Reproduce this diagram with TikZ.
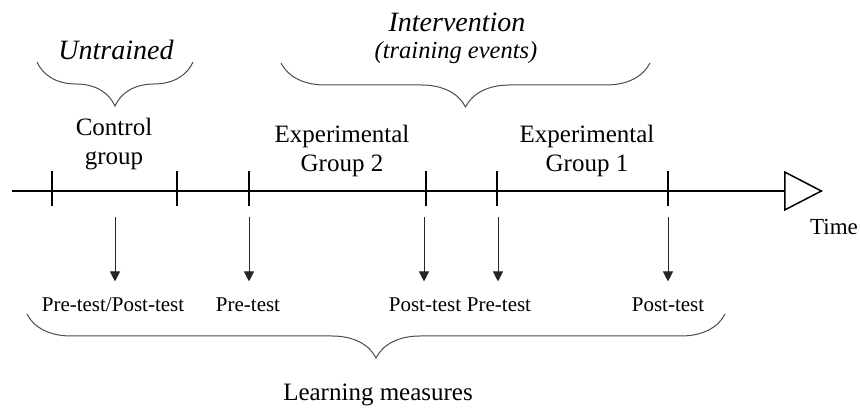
\documentclass[tikz,border=0pt]{standalone}
\usepackage{fontspec}
\setmainfont{Liberation Serif}
\usetikzlibrary{arrows.meta,decorations.pathreplacing}

\begin{document}
\begin{tikzpicture}[x=1pt, y=1pt,
    axis/.style={line width=2pt, -{Triangle[open, length=39pt, width=40pt, line width=1.5pt]}},
    tick/.style={line width=2pt},
    measure/.style={draw=black!85, line width=0.9pt, -{Triangle[length=10pt, width=10pt]}, shorten >=12pt},
    brace/.style={draw=black!70, line width=1pt, decorate, decoration={brace, mirror, amplitude=44pt}},
    group/.style={align=center, font=\fontsize{25}{29}\selectfont},
    test/.style={anchor=base, text height=15pt, text depth=4pt, font=\fontsize{21}{25}\selectfont},
    phase/.style={font=\fontsize{28}{32}\selectfont\itshape}]
    \useasboundingbox (0,0) rectangle (860,412);

    % time line
    \coordinate (start) at (12,221);
    \coordinate (end) at (823,221);
    \draw[axis] (start) -- (end);
    \node[font=\fontsize{23}{27}\selectfont] (time) at (834,185) {Time};
    \foreach \x [count=\i] in {52,177,249,426,497,668}
        \draw[tick] (\x,241) coordinate (t\i) -- (\x,206);

    % groups
    \node[group] (control) at (114,268) {Control\\group};
    \node[group] (exp2) at (342,261) {Experimental\\Group 2};
    \node[group] (exp1) at (587,261) {Experimental\\Group 1};

    % phases
    \draw[brace] (37,350) -- (193,350);
    \node[phase] (untrained) at (116,362) {Untrained};
    \draw[brace] (281,349) -- (650,349);
    \node[phase] (intervention) at (457,390) {Intervention};
    \node[font=\fontsize{24.5}{28}\selectfont\itshape] (events) at (456,359) {(training events)};

    % measures
    \foreach \x/\lab [count=\i] in {113/Pre-test\slash Post-test, 248/Pre-test, 425/Post-test, 499/Pre-test, 668/Post-test}
        \node[test] (l\i) at (\x,100) {\lab};
    \foreach \x [count=\i] in {115,249,424,498,668} {
        \coordinate (m\i) at (\x,195);
        \draw[measure] (m\i) -- (m\i |- l\i.north);
    }
    \draw[brace] (27,98) -- (725,98);
    \node[font=\fontsize{25}{30}\selectfont] (learning) at (378,17) {Learning measures};
\end{tikzpicture}
\end{document}
